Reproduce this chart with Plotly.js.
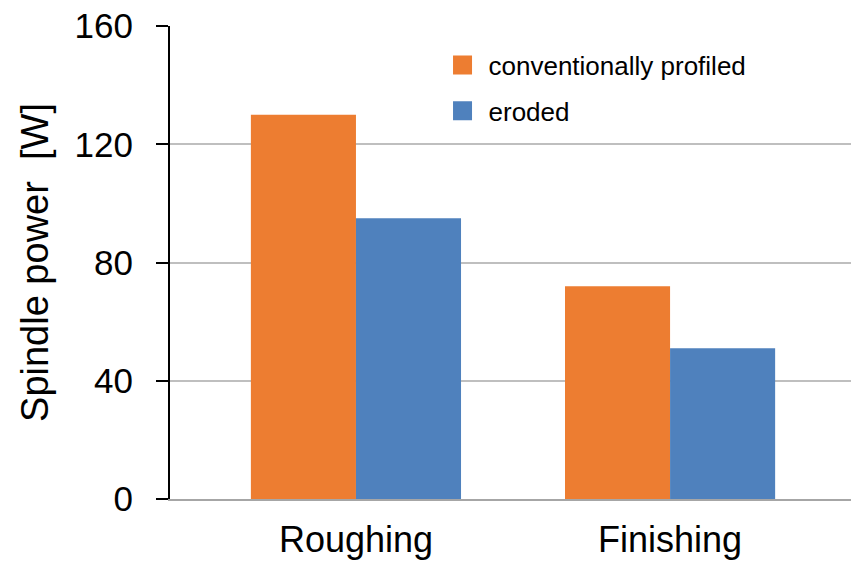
<!DOCTYPE html>
<html>
<head>
<meta charset="utf-8">
<script src="https://cdn.plot.ly/plotly-3.0.1.min.js"></script>
<style>
  html, body { margin: 0; padding: 0; background: #fff; }
  #chart { width: 851px; height: 563px; }
</style>
</head>
<body>
<div id="chart"></div>
<script>
const categories = ["Roughing", "Finishing"];
const conventionalValues = [130, 72];
const erodedValues = [95, 51];
const seriesNames = ["conventionally profiled", "eroded"];
const yTickValues = [0, 40, 80, 120, 160];

const FONT = "'Liberation Sans', Arial, sans-serif";

const traces = [
  {
    type: "bar",
    name: seriesNames[0],
    x: categories,
    y: conventionalValues,
    marker: { color: "#ED7D31" },
    legendgroup: "a",
    hoverinfo: "skip"
  },
  {
    type: "bar",
    name: seriesNames[1],
    x: categories,
    y: erodedValues,
    marker: { color: "#4F81BD" },
    legendgroup: "b",
    hoverinfo: "skip"
  }
];

const layout = {
  width: 851,
  height: 563,
  margin: { l: 170, r: 0, t: 26, b: 64 },
  paper_bgcolor: "#ffffff",
  plot_bgcolor: "#ffffff",
  font: { family: FONT, color: "#000000" },
  barmode: "group",
  bargap: 0.331,
  bargroupgap: 0,
  showlegend: true,
  legend: {
    x: 0.409, y: 0.967, xanchor: "left", yanchor: "top",
    font: { family: FONT, size: 26, color: "#000000" },
    bgcolor: "rgba(0,0,0,0)",
    tracegroupgap: 9,
    itemwidth: 30
  },
  xaxis: {
    type: "category",
    range: [-0.592, 1.576],
    showline: true,
    linecolor: "#A6A6A6",
    linewidth: 2,
    ticks: "",
    showgrid: false,
    zeroline: false,
    tickfont: { family: FONT, size: 36, color: "#000000" },
    ticklabelstandoff: 8
  },
  yaxis: {
    range: [0, 160],
    tickvals: yTickValues,
    ticktext: yTickValues.map(String),
    showline: true,
    linecolor: "#000000",
    linewidth: 2,
    ticks: "outside",
    ticklen: 12,
    tickwidth: 2,
    tickcolor: "#000000",
    showgrid: true,
    gridcolor: "#BFBFBF",
    gridwidth: 2,
    zeroline: false,
    tickfont: { family: FONT, size: 35, color: "#000000" },
    ticklabelstandoff: 16,
    title: {
      text: "Spindle power  [W]",
      font: { family: FONT, size: 38, color: "#000000" },
      standoff: 14
    }
  }
};

Plotly.newPlot("chart", traces, layout, { staticPlot: true, displayModeBar: false }).then(() => {
  document.querySelectorAll(".legend .legendpoints path").forEach(p => {
    p.setAttribute("d", "M3.5,9.5H-15.5V-9.5H3.5Z");
  });
});
</script>
</body>
</html>
